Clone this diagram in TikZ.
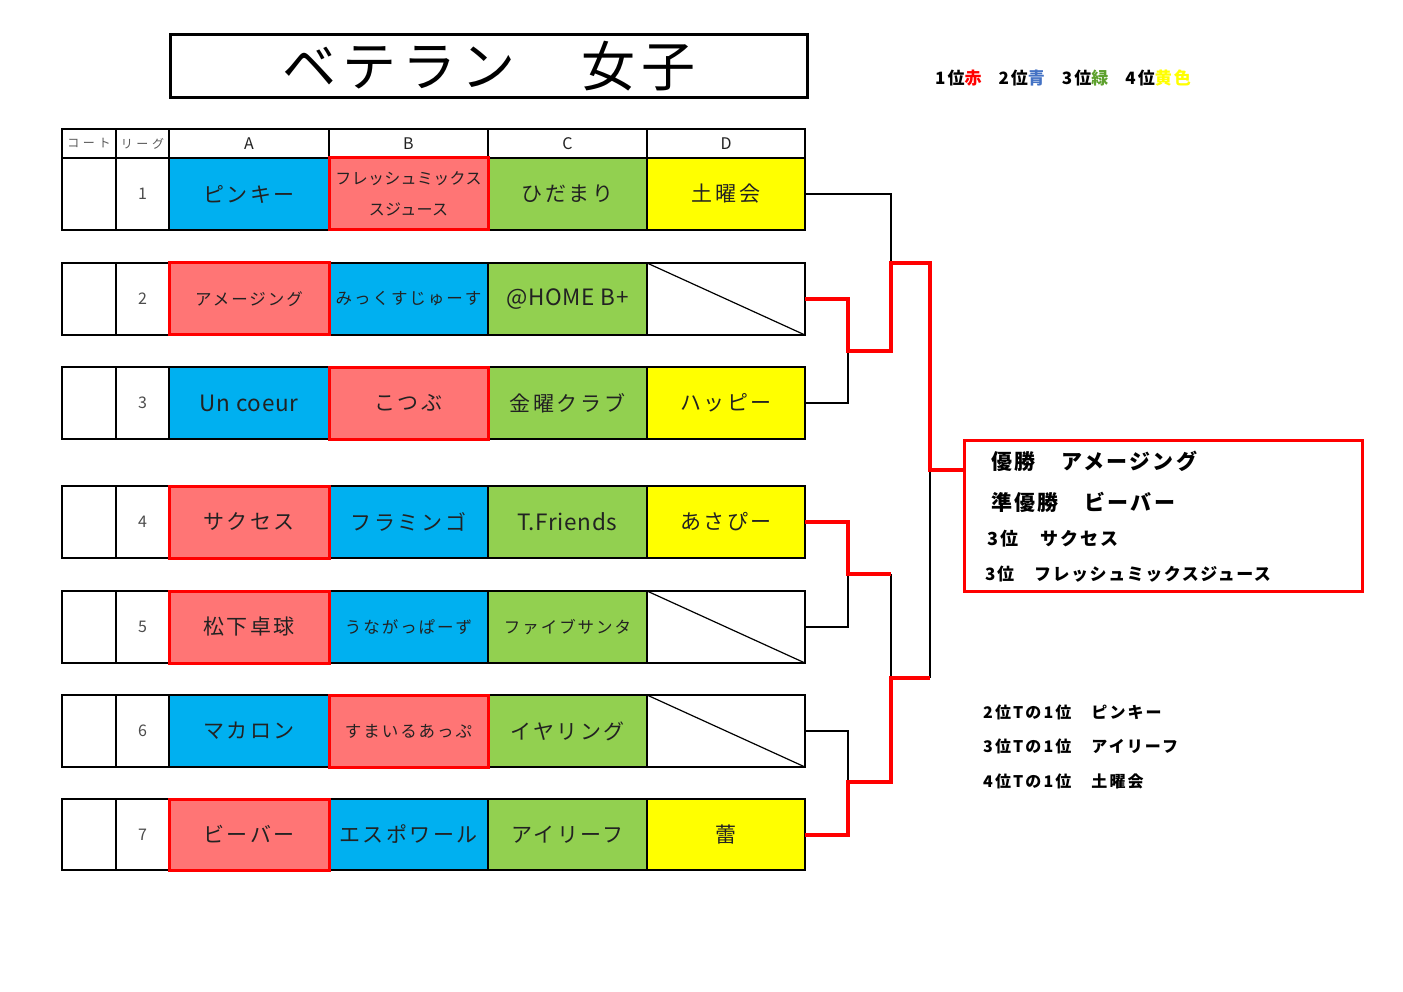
\documentclass[tikz,border=0pt]{standalone}
\usepackage{fontspec}
\setmainfont{Noto Sans CJK JP}
\newcommand\fsz[1]{\fontsize{#1}{#1}\selectfont}
\newcommand\lsp[1]{\addfontfeatures{LetterSpace=#1}}
\definecolor{cblue}{HTML}{00B0F0}
\definecolor{cpink}{HTML}{FF7575}
\definecolor{cgreen}{HTML}{92D050}
\definecolor{cyellow}{HTML}{FFFF00}
\definecolor{cred}{HTML}{FF0000}
\definecolor{lblue}{HTML}{4472C4}
\definecolor{lgreen}{HTML}{5EA12E}
\definecolor{ctext}{HTML}{222222}
\tikzset{
  cell/.style={draw=black, line width=1.4pt, inner sep=0pt, outer sep=0pt, anchor=north west,
     minimum height=72, text=ctext, font=\lsp{12}\fsz{21}, align=center},
  latin/.style={font=\lsp{3}\fsz{22.5}},
  court/.style={cell, minimum width=54},
  league/.style={cell, minimum width=53, font=\fsz{16}, text=black!70},
  colA/.style={cell, minimum width=160},
  colB/.style={cell, minimum width=159},
  colC/.style={cell, minimum width=159},
  colD/.style={cell, minimum width=158},
  win/.style={line width=3pt, draw=cred},
  small/.style={font=\lsp{12}\fsz{16.5}},
  hdr/.style={cell, minimum height=29, font=\fsz{16}},
  thinline/.style={draw=black, line width=1.2pt},
  redline/.style={draw=cred, line width=4pt, line join=miter},
  restext/.style={anchor=base west, inner sep=0pt, font=\lsp{11}\bfseries\fsz{21}},
  note/.style={anchor=base west, inner sep=0pt, font=\lsp{13}\bfseries\fsz{16}},
}
\begin{document}
\begin{tikzpicture}[x=1pt,y=-1pt]
\useasboundingbox[fill=white] (0,0) rectangle (1403,992);

% title
\node[draw=black, line width=3pt, minimum width=637, minimum height=63, anchor=north west,
  inner sep=0pt, font=\lsp{11}\fsz{54}] (title) at (169,33) {ベテラン　女子};

% legend
\node[anchor=base west, inner sep=0pt, font=\lsp{12}\bfseries\fsz{17}] (legend) at (935,85)
  {1位\textcolor{cred}{赤}\quad 2位\textcolor{lblue}{青}\quad 3位\textcolor{lgreen}{緑}\quad 4位\textcolor{cyellow}{黄色}};

% header
\node[hdr, minimum width=54, font=\lsp{30}\fsz{12}, text=black!65] (hcourt) at (62,129) {コート};
\node[hdr, minimum width=53, font=\lsp{30}\fsz{12}, text=black!65] (hleague) at (116,129) {リーグ};
\node[hdr, minimum width=160] (hA) at (169,129) {A};
\node[hdr, minimum width=159] (hB) at (329,129) {B};
\node[hdr, minimum width=159] (hC) at (488,129) {C};
\node[hdr, minimum width=158] (hD) at (647,129) {D};

% row 1
\node[court] (r1c) at (62,158) {};
\node[league] (r1l) at (116,158) {1};
\node[colA, fill=cblue] (r1a) at (169,158) {ピンキー};
\node[colC, fill=cgreen] (r1cc) at (488,158) {ひだまり};
\node[colD, fill=cyellow] (r1d) at (647,158) {土曜会};
\node[colB, fill=cpink, win, font=\lsp{2}\fsz{16}, align=center] (r1b) at (329,158) {フレッシュミックス\\[15pt]スジュース};

% row 2
\node[court] (r2c) at (62,263) {};
\node[league] (r2l) at (116,263) {2};
\node[colB, fill=cblue, small] (r2b) at (329,263) {みっくすじゅーす};
\node[colC, fill=cgreen, latin] (r2cc) at (488,263) {@HOME B+};
\node[colD] (r2d) at (647,263) {};
\node[colA, fill=cpink, win, small] (r2a) at (169,263) {アメージング};
\draw[thinline] (r2d.north west) -- (r2d.south east);

% row 3
\node[court] (r3c) at (62,367) {};
\node[league] (r3l) at (116,367) {3};
\node[colA, fill=cblue, latin] (r3a) at (169,367) {Un coeur};
\node[colC, fill=cgreen] (r3cc) at (488,367) {金曜クラブ};
\node[colD, fill=cyellow] (r3d) at (647,367) {ハッピー};
\node[colB, fill=cpink, win] (r3b) at (329,367) {こつぶ};

% row 4
\node[court] (r4c) at (62,486) {};
\node[league] (r4l) at (116,486) {4};
\node[colB, fill=cblue] (r4b) at (329,486) {フラミンゴ};
\node[colC, fill=cgreen, latin] (r4cc) at (488,486) {T.Friends};
\node[colD, fill=cyellow] (r4d) at (647,486) {あさぴー};
\node[colA, fill=cpink, win] (r4a) at (169,486) {サクセス};

% row 5
\node[court] (r5c) at (62,591) {};
\node[league] (r5l) at (116,591) {5};
\node[colB, fill=cblue, small] (r5b) at (329,591) {うながっぱーず};
\node[colC, fill=cgreen, small] (r5cc) at (488,591) {ファイブサンタ};
\node[colD] (r5d) at (647,591) {};
\node[colA, fill=cpink, win] (r5a) at (169,591) {松下卓球};
\draw[thinline] (r5d.north west) -- (r5d.south east);

% row 6
\node[court] (r6c) at (62,695) {};
\node[league] (r6l) at (116,695) {6};
\node[colA, fill=cblue] (r6a) at (169,695) {マカロン};
\node[colC, fill=cgreen] (r6cc) at (488,695) {イヤリング};
\node[colD] (r6d) at (647,695) {};
\node[colB, fill=cpink, win, small] (r6b) at (329,695) {すまいるあっぷ};
\draw[thinline] (r6d.north west) -- (r6d.south east);

% row 7
\node[court, minimum height=71] (r7c) at (62,799) {};
\node[league, minimum height=71] (r7l) at (116,799) {7};
\node[colB, fill=cblue, minimum height=71] (r7b) at (329,799) {エスポワール};
\node[colC, fill=cgreen, minimum height=71] (r7cc) at (488,799) {アイリーフ};
\node[colD, fill=cyellow, minimum height=71] (r7d) at (647,799) {蕾};
\node[colA, fill=cpink, win, minimum height=71] (r7a) at (169,799) {ビーバー};

% results box
\node[draw=cred, line width=2.5pt, minimum width=398, minimum height=151, anchor=north west,
  inner sep=0pt] (res) at (963,439) {};
\node[restext] (w1) at (991,469) {優勝　アメージング};
\node[restext] (w2) at (991,510) {準優勝　ビーバー};
\node[restext, font=\lsp{11}\bfseries\fsz{18}] (w3) at (987,545) {3位　サクセス};
\node[restext, font=\lsp{9}\bfseries\fsz{17}] (w4) at (985,580) {3位　フレッシュミックスジュース};

% notes
\node[note] (n1) at (983,718) {2位Tの1位　ピンキー};
\node[note] (n2) at (983,752) {3位Tの1位　アイリーフ};
\node[note] (n3) at (983,787) {4位Tの1位　土曜会};

% bracket coordinates
\coordinate (m23) at (848,351);
\coordinate (j1) at (891,263);
\coordinate (f1) at (930,470);
\coordinate (m45) at (848,574);
\coordinate (j2) at (891,574);
\coordinate (j3) at (891,678);
\coordinate (k) at (930,678);
\coordinate (m67) at (848,782);

% black lines
\draw[thinline] (r1d.east) -| (j1);
\draw[thinline] (r3d.east) -| (m23);
\draw[thinline] (r5d.east) -| (m45);
\draw[thinline] (r6d.east) -| (m67);
\draw[thinline] (j2) -- (j3);
\draw[thinline] (k) -- (f1);

% red lines
\draw[redline] (r2d.east) -| (m23) -| (j1) -| (f1) -- (f1 -| res.west);
\draw[redline] (r4d.east) -| (m45) -- (j2);
\draw[redline] (r7d.east) -| (m67) -| (j3) -- (k);
\end{tikzpicture}
\end{document}
